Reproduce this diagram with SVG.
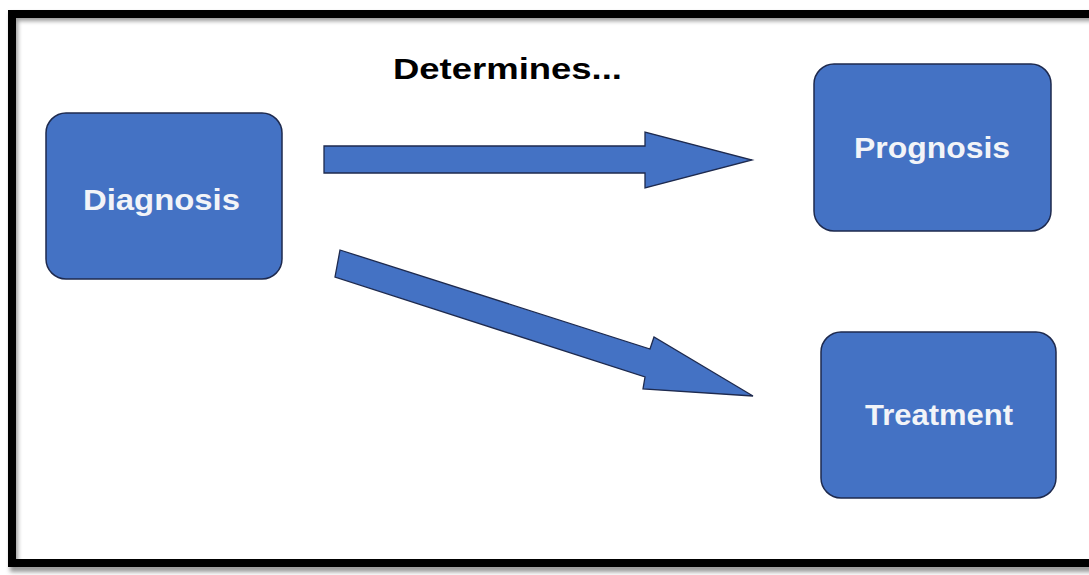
<svg xmlns="http://www.w3.org/2000/svg" width="1089" height="575" viewBox="0 0 1089 575">
<style>
.box{fill:#4472C4;stroke:#1E2A4E;stroke-width:1.5}
.lbl{font-family:"Liberation Sans",Arial,sans-serif;font-weight:bold;font-size:30px;fill:#F2F4F8}
.arrow{fill:#4472C4;stroke:#1E2A4E;stroke-width:1.3;stroke-linejoin:miter}
.title{font-family:"Liberation Sans",Arial,sans-serif;font-weight:bold;font-size:30px;fill:#000}
</style>
<defs>
<filter id="sh" x="-5%" y="-5%" width="110%" height="110%">
<feGaussianBlur stdDeviation="2"/>
</filter>
</defs>
<rect width="1089" height="575" fill="#fff"/>
<rect x="14" y="17" width="1100" height="551" fill="none" stroke="#999" stroke-width="8" filter="url(#sh)"/>
<rect x="12" y="14" width="1100" height="549" fill="none" stroke="#000" stroke-width="8"/>
<text class="title" x="393" y="79" textLength="229" lengthAdjust="spacingAndGlyphs">Determines...</text>
<g id="connectors">
<polygon class="arrow" points="324,146 645,146 645,132 752,160 645,188 645,173 324,173"/>
<polygon class="arrow" points="340,250 650,349 654,337 753,396 643,389 645,377 335,277"/>
</g>
<g id="diagnosis">
<rect class="box" x="46" y="113" width="236" height="166" rx="20"/>
<text class="lbl" x="83" y="210" textLength="157" lengthAdjust="spacingAndGlyphs">Diagnosis</text>
</g>
<g id="prognosis">
<rect class="box" x="814" y="64" width="237" height="167" rx="20"/>
<text class="lbl" x="854" y="158" textLength="156" lengthAdjust="spacingAndGlyphs">Prognosis</text>
</g>
<g id="treatment">
<rect class="box" x="821" y="332" width="235" height="166" rx="20"/>
<text class="lbl" x="865" y="425" textLength="148" lengthAdjust="spacingAndGlyphs">Treatment</text>
</g>
</svg>
